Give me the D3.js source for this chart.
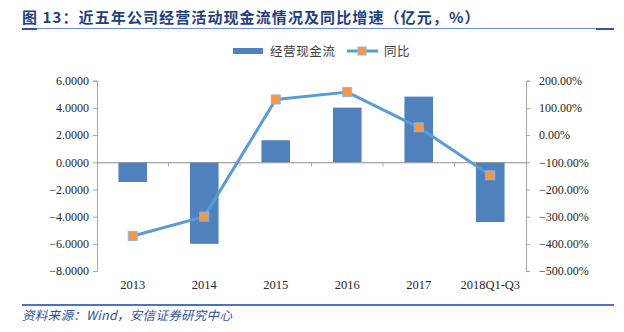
<!DOCTYPE html>
<html>
<head>
<meta charset="utf-8">
<script src="https://cdn.jsdelivr.net/npm/d3@7"></script>
<style>
  html, body { margin: 0; padding: 0; background: #fff; }
  svg { display: block; }
</style>
</head>
<body>
<svg id="chart" width="624" height="332"></svg>
<script>
// Operating cash flow (亿元) and year-over-year change (%)
const categories = ["2013", "2014", "2015", "2016", "2017", "2018Q1-Q3"];
const cashFlow = [-1.45, -6.0, 1.62, 4.02, 4.83, -4.40];
const yoyGrowth = [-371, -300, 131, 158, 28.6, -148];
const leftTicks = [6, 4, 2, 0, -2, -4, -6, -8];
const rightTicks = [200, 100, 0, -100, -200, -300, -400, -500];

const title = "图 13：近五年公司经营活动现金流情况及同比增速（亿元，%）";
const source = "资料来源：Wind，安信证券研究中心";
const seriesNames = ["经营现金流", "同比"];

const svg = d3.select("#chart");
const plot = { left: 97, right: 526, top: 80.7, bottom: 271 };
const serif = "'Liberation Serif', 'Times New Roman', serif";
const cjk = "'Noto Sans CJK SC', sans-serif";

const x = d3.scaleBand().domain(categories).range([plot.left, plot.right]).paddingInner(0.6).paddingOuter(0.3);
const xOuter = d3.scaleBand().domain(categories).range([plot.left, plot.right]);
const yL = d3.scaleLinear().domain([-8, 6]).range([plot.bottom, plot.top]);
const yR = d3.scaleLinear().domain([-500, 200]).range([plot.bottom, plot.top]);

// Title and rule beneath it
svg.append("text")
  .attr("x", 22).attr("y", 23)
  .attr("font-family", cjk).attr("font-size", 15).attr("font-weight", "bold")
  .attr("fill", "#1f3f82").attr("letter-spacing", 1.1)
  .text(title);
svg.append("line").attr("x1", 22).attr("x2", 614).attr("y1", 28.5).attr("y2", 28.5)
  .attr("stroke", "#6f8fcf").attr("stroke-width", 1);
svg.append("line").attr("x1", 22).attr("x2", 37).attr("y1", 29).attr("y2", 29)
  .attr("stroke", "#2f55a0").attr("stroke-width", 2);
svg.append("line").attr("x1", 596).attr("x2", 614).attr("y1", 29).attr("y2", 29)
  .attr("stroke", "#2f55a0").attr("stroke-width", 2);

// Legend
const legend = svg.append("g").attr("font-family", cjk).attr("font-size", 12.5).attr("fill", "#404040");
legend.append("rect").attr("x", 233).attr("y", 48).attr("width", 30).attr("height", 6).attr("fill", "#4f81bd");
legend.append("text").attr("x", 270).attr("y", 55.5).text(seriesNames[0]).attr("letter-spacing", 0.6);
legend.append("line").attr("x1", 347).attr("x2", 378).attr("y1", 51).attr("y2", 51)
  .attr("stroke", "#5b9bd5").attr("stroke-width", 3);
legend.append("rect").attr("x", 358).attr("y", 47).attr("width", 8).attr("height", 8)
  .attr("fill", "#f79646").attr("stroke", "#8db4e2").attr("stroke-width", 1);
legend.append("text").attr("x", 384).attr("y", 55.5).text(seriesNames[1]).attr("letter-spacing", 0.6);

// Left axis
const leftAxis = d3.axisLeft(yL).tickValues(leftTicks).tickSize(4).tickPadding(4)
  .tickFormat(d => d3.format(".4f")(d));
const gL = svg.append("g").attr("transform", `translate(${plot.left},0)`).call(leftAxis);
// Right axis
const rightAxis = d3.axisRight(yR).tickValues(rightTicks).tickSize(4).tickPadding(9)
  .tickFormat(d => d3.format(".2f")(d) + "%");
const gR = svg.append("g").attr("transform", `translate(${plot.right},0)`).call(rightAxis);

[gL, gR].forEach(g => {
  g.select(".domain").attr("stroke", "#a6a6a6");
  g.selectAll(".tick line").attr("stroke", "#a6a6a6");
  g.selectAll(".tick text").attr("font-family", serif).attr("font-size", 12).attr("fill", "#262626");
});

// Bars
svg.append("g").selectAll("rect").data(categories).join("rect")
  .attr("x", d => x(d))
  .attr("width", x.bandwidth())
  .attr("y", (d, i) => yL(Math.max(0, cashFlow[i])))
  .attr("height", (d, i) => Math.abs(yL(cashFlow[i]) - yL(0)))
  .attr("fill", "#4f81bd");

// Category axis along zero
const bottomAxis = d3.axisBottom(xOuter).tickSize(0).tickFormat("");
const gX = svg.append("g").attr("transform", `translate(0,${yL(0)})`).call(bottomAxis);
gX.select(".domain").attr("stroke", "#8c8c8c");
gX.selectAll(".tick").remove();
gX.selectAll(".sep").data(categories.slice(1)).join("line")
  .attr("x1", d => xOuter(d)).attr("x2", d => xOuter(d))
  .attr("y1", 0).attr("y2", 4).attr("stroke", "#a6a6a6");

// Category labels at the bottom
svg.append("g").selectAll("text").data(categories).join("text")
  .attr("x", d => xOuter(d) + xOuter.bandwidth() / 2)
  .attr("y", 289)
  .attr("text-anchor", "middle")
  .attr("font-family", serif).attr("font-size", 12.5).attr("fill", "#262626")
  .text(d => d);

// YoY line with square markers
const cx = d => xOuter(d) + xOuter.bandwidth() / 2;
const line = d3.line().x((d, i) => cx(categories[i])).y(d => yR(d));
svg.append("path").datum(yoyGrowth).attr("d", line)
  .attr("fill", "none").attr("stroke", "#5b9bd5").attr("stroke-width", 3).attr("stroke-linejoin", "round");
svg.append("g").selectAll("rect").data(yoyGrowth).join("rect")
  .attr("x", (d, i) => cx(categories[i]) - 4.5)
  .attr("y", d => yR(d) - 4.5)
  .attr("width", 9).attr("height", 9)
  .attr("fill", "#f79646").attr("stroke", "#8db4e2").attr("stroke-width", 1);

// Footer rule and source note
svg.append("line").attr("x1", 22).attr("x2", 614).attr("y1", 305).attr("y2", 305)
  .attr("stroke", "#4f73b8").attr("stroke-width", 2);
svg.append("text").attr("x", 22).attr("y", 320)
  .attr("font-family", cjk).attr("font-size", 12.5).attr("font-style", "italic")
  .attr("fill", "#2f4f9f").attr("letter-spacing", 0.3)
  .text(source);
</script>
</body>
</html>
